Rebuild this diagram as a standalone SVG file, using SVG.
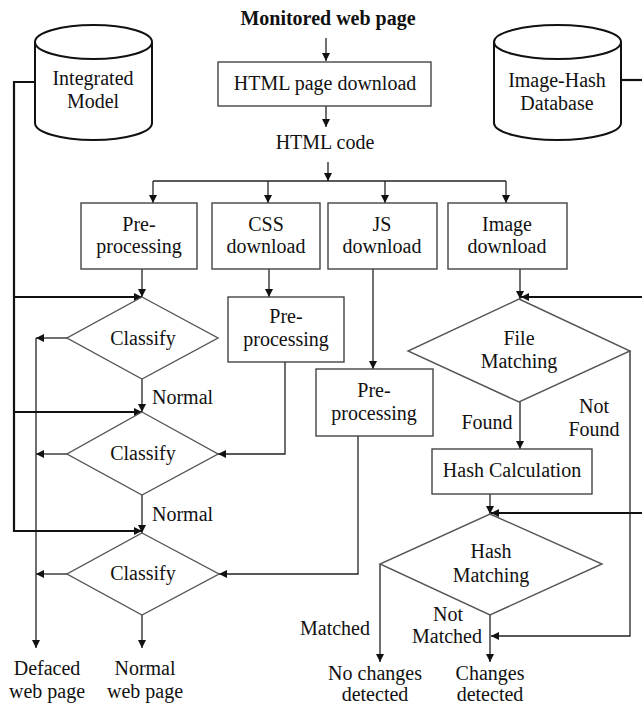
<svg xmlns="http://www.w3.org/2000/svg" width="642" height="704" viewBox="0 0 642 704">
<style>
text{font-family:"Liberation Serif","Times New Roman",serif;font-size:20px;fill:#111;text-anchor:middle}
.b{font-weight:bold}
.l{text-anchor:start}
.box{fill:#fff;stroke:#444;stroke-width:1.4}
.dia{fill:#fff;stroke:#555;stroke-width:1.4}
.cyl{fill:#fff;stroke:#111;stroke-width:2}
.c{fill:none;stroke:#222;stroke-width:1.3}
.t{fill:none;stroke:#111;stroke-width:2.2}
</style>
<defs>
<marker id="ah" viewBox="0 0 8 8" refX="8" refY="4" markerWidth="8" markerHeight="8" markerUnits="userSpaceOnUse" orient="auto">
<path d="M0,0 L8,4 L0,8 z" fill="#111"/>
</marker>
</defs>
<g id="connectors">
<path class="c" d="M326,38 V61" marker-end="url(#ah)"/>
<path class="c" d="M326,106 V127" marker-end="url(#ah)"/>
<path class="c" d="M328,162 V181" marker-end="url(#ah)"/>
<path class="c" d="M153,181 H506"/>
<path class="c" d="M153,181 V203" marker-end="url(#ah)"/>
<path class="c" d="M268,181 V203" marker-end="url(#ah)"/>
<path class="c" d="M385,181 V203" marker-end="url(#ah)"/>
<path class="c" d="M506,181 V203" marker-end="url(#ah)"/>
<path class="c" d="M142,269 V297" marker-end="url(#ah)"/>
<path class="c" d="M269,269 V297" marker-end="url(#ah)"/>
<path class="c" d="M373,269 V369" marker-end="url(#ah)"/>
<path class="c" d="M520,269 V299" marker-end="url(#ah)"/>
<path class="c" d="M285,362 V454 H218" marker-end="url(#ah)"/>
<path class="c" d="M358,436 V574 H219" marker-end="url(#ah)"/>
<path class="c" d="M142,379 V412" marker-end="url(#ah)"/>
<path class="c" d="M142,495 V533" marker-end="url(#ah)"/>
<path class="c" d="M142,615 V648" marker-end="url(#ah)"/>
<path class="c" d="M67,338 H36" marker-end="url(#ah)"/>
<path class="c" d="M67,454 H36" marker-end="url(#ah)"/>
<path class="c" d="M67,574 H36" marker-end="url(#ah)"/>
<path class="c" d="M36,338 V648" marker-end="url(#ah)"/>
<path class="t" d="M35,82 H14 V531 H142" marker-end="url(#ah)"/>
<path class="t" d="M14,297 H142" marker-end="url(#ah)"/>
<path class="t" d="M14,412 H142" marker-end="url(#ah)"/>
<path class="t" d="M621,80 H642"/>
<path class="t" d="M642,297 H521" marker-end="url(#ah)"/>
<path class="t" d="M642,513 H491" marker-end="url(#ah)"/>
<path class="c" d="M630,351 V636 H491" marker-end="url(#ah)"/>
<path class="c" d="M520,402 V449" marker-end="url(#ah)"/>
<path class="c" d="M490,494 V514" marker-end="url(#ah)"/>
<path class="c" d="M490,615 V662" marker-end="url(#ah)"/>
<path class="c" d="M380,564 V662" marker-end="url(#ah)"/>
</g>
<g id="title"><text class="b" x="328" y="25">Monitored  web  page</text></g>
<g id="integrated-model">
<path class="cyl" d="M35,42 A58.5,17 0 0 1 152,42 L152,123 A58.5,17 0 0 1 35,123 Z"/>
<path class="cyl" d="M35,42 A58.5,17 0 0 0 152,42"/>
<text x="93" y="85">Integrated</text>
<text x="93" y="108">Model</text>
</g>
<g id="image-hash-db">
<path class="cyl" d="M494,42 A63.5,17 0 0 1 621,42 L621,123 A63.5,17 0 0 1 494,123 Z"/>
<path class="cyl" d="M494,42 A63.5,17 0 0 0 621,42"/>
<text x="557" y="87">Image-Hash</text>
<text x="557" y="110">Database</text>
</g>
<g id="html-download">
<rect class="box" x="218" y="62" width="213" height="44"/>
<text x="325" y="90">HTML  page download</text>
</g>
<g id="html-code"><text x="325" y="149">HTML  code</text></g>
<g id="pre1">
<rect class="box" x="81" y="203" width="116" height="66"/>
<text x="139" y="231">Pre-</text>
<text x="139" y="253">processing</text>
</g>
<g id="css">
<rect class="box" x="212" y="203" width="108" height="66"/>
<text x="266" y="231">CSS</text>
<text x="266" y="253">download</text>
</g>
<g id="js">
<rect class="box" x="328" y="203" width="109" height="66"/>
<text x="382" y="231">JS</text>
<text x="382" y="253">download</text>
</g>
<g id="image">
<rect class="box" x="448" y="203" width="119" height="66"/>
<text x="507" y="231">Image</text>
<text x="507" y="253">download</text>
</g>
<g id="pre2">
<rect class="box" x="228" y="297" width="116" height="65"/>
<text x="286" y="323">Pre-</text>
<text x="286" y="346">processing</text>
</g>
<g id="pre3">
<rect class="box" x="316" y="369" width="117" height="67"/>
<text x="374" y="397">Pre-</text>
<text x="374" y="420">processing</text>
</g>
<g id="classify1">
<polygon class="dia" points="142,297 218,338 142,379 67,338"/>
<text x="143" y="345">Classify</text>
</g>
<g id="classify2">
<polygon class="dia" points="142,412 218,454 142,495 67,454"/>
<text x="143" y="460">Classify</text>
</g>
<g id="classify3">
<polygon class="dia" points="142,533 219,574 142,615 67,574"/>
<text x="143" y="580">Classify</text>
</g>
<g id="labels-left">
<text class="l" x="152" y="404">Normal</text>
<text class="l" x="152" y="521">Normal</text>
</g>
<g id="defaced">
<text x="47" y="675">Defaced</text>
<text x="47" y="698">web page</text>
</g>
<g id="normal-page">
<text x="145" y="675">Normal</text>
<text x="145" y="698">web page</text>
</g>
<g id="file-matching">
<polygon class="dia" points="519,299 630,351 519,402 408,351"/>
<text x="519" y="345">File</text>
<text x="519" y="368">Matching</text>
</g>
<g id="labels-file">
<text x="487" y="429">Found</text>
<text x="594" y="413">Not</text>
<text x="594" y="436">Found</text>
</g>
<g id="hash-calc">
<rect class="box" x="432" y="449" width="160" height="45"/>
<text x="512" y="477">Hash Calculation</text>
</g>
<g id="hash-matching">
<polygon class="dia" points="490,514 602,564 490,615 380,564"/>
<text x="491" y="558">Hash</text>
<text x="491" y="582">Matching</text>
</g>
<g id="labels-hash">
<text x="335" y="635">Matched</text>
<text x="448" y="621">Not</text>
<text x="447" y="643">Matched</text>
</g>
<g id="no-changes">
<text x="375" y="680">No changes</text>
<text x="375" y="701">detected</text>
</g>
<g id="changes">
<text x="490" y="680">Changes</text>
<text x="490" y="701">detected</text>
</g>
</svg>
